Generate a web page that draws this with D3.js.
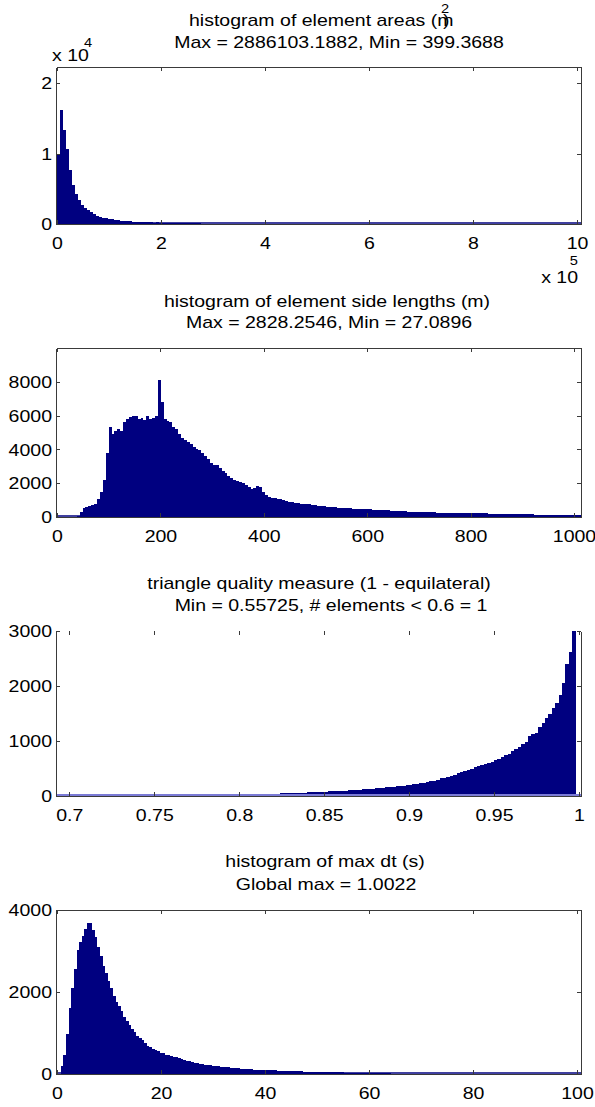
<!DOCTYPE html>
<html><head><meta charset="utf-8">
<script src="https://cdn.jsdelivr.net/npm/d3@7"></script>
<style>
html,body{margin:0;padding:0;background:#fff;}
svg{display:block;}
text{font-family:"Liberation Sans",Arial,Helvetica,sans-serif;fill:#000;}
</style>
</head><body>
<svg id="chart" width="595" height="1107"></svg>
<script>
// ---------- DATA ----------
// Panel 1: element areas (m^2)
const areaTitle1 = "histogram of element areas (m";
const areaTitle2 = "Max = 2886103.1882, Min = 399.3688";
const areaBinStart = 399.3688;
const areaBinWidth = 5771.4;
const areaCounts = [9760,16200,13300,10700,7600,5500,4200,3400,2650,2300,
 2000,1650,1350,1200,1050,900,800,720,650,600,
 540,490,450,410,380,350,320,300,280,260,
 240,225,210,250,190,170,160,150,140,130,
 120,110,100,95,90,85,80,75,70,65,
 60,55,50,48,45,42,40,38,35,32,
 30,28,26,24,22,20,18,16,14,12,
 10,9,8,7,6,5,4,3,2,1];
const areaXDomain = [-1923, 1007692];
const areaYDomain = [0, 22270];
const areaXTicks = [0,200000,400000,600000,800000,1000000];
const areaXLabels = ["0","2","4","6","8","10"];
const areaYTicks = [0,10000,20000];
const areaYLabels = ["0","1","2"];

// Panel 2: element side lengths (m)
const sideTitle1 = "histogram of element side lengths (m)";
const sideTitle2 = "Max = 2828.2546, Min = 27.0896";
const sideBinStart = 27.0896;
const sideBinWidth = 5.6023;
const sideCounts = [0,0,60,280,560,620,650,700,780,1050,
 1450,2200,3800,5300,4900,5100,5200,5100,5600,5800,
 5900,5950,5950,5800,5850,5750,5950,5800,5850,5950,
 8100,6800,5800,5700,5600,5300,5200,4900,4700,4550,
 4450,4300,4150,4050,3950,3800,3600,3450,3200,3100,
 3050,2900,2750,2600,2450,2300,2200,2150,2100,2000,
 1900,1750,1650,1700,1850,1800,1500,1300,1200,1150,
 1100,1080,1050,980,930,880,860,830,810,795,
 780,760,740,710,690,670,650,630,610,600,
 590,575,560,550,540,525,510,500,490,480,
 470,465,460,450,440,430,420,410,400,390,
 380,370,360,350,340,330,320,310,305,300,
 295,290,285,280,275,270,265,260,258,255,
 252,250,248,245,240,238,235,232,230,226,
 222,218,214,210,205,200,196,192,188,184,
 180,176,172,168,164,160,156,152,150,148,
 146,144,142,140,138,136,134,132,130,128,
 126,124,122,120,120,118,116];
const sideXDomain = [-1.934, 1013.5];
const sideYDomain = [0, 10000];
const sideXTicks = [0,200,400,600,800,1000];
const sideXLabels = ["0","200","400","600","800","1000"];
const sideYTicks = [0,2000,4000,6000,8000];
const sideYLabels = ["0","2000","4000","6000","8000"];

// Panel 3: triangle quality
const qualTitle1 = "triangle quality measure (1 - equilateral)";
const qualTitle2 = "Min = 0.55725, # elements < 0.6 = 1";
const qualBinStart = 0.692;
const qualBinWidth = 0.002;
const qualCounts = [0,0,0,1,0,0,0,1,0,0,
 1,0,0,1,0,1,0,0,1,0,
 1,1,0,1,2,1,1,2,1,2,
 2,1,2,3,2,3,3,2,4,3,
 4,25,4,5,6,8,12,10,15,14,
 16,18,22,25,24,26,28,30,30,32,
 34,35,38,40,42,44,46,48,50,52,
 55,57,60,62,65,68,70,72,76,78,
 82,85,88,92,96,100,104,108,112,118,
 122,126,130,134,140,146,150,155,160,168,
 175,180,186,195,205,215,222,232,245,255,
 268,280,300,320,335,350,370,390,410,430,
 450,475,495,520,540,560,580,600,620,650,
 680,710,740,770,810,850,900,940,980,1100,
 1130,1150,1250,1330,1420,1500,1600,1700,1830,2050,
 2400,2620,3000];
const qualXDomain = [0.69217, 1.00118];
const qualYDomain = [0, 3000];
const qualXTicks = [0.7,0.75,0.8,0.85,0.9,0.95,1];
const qualXLabels = ["0.7","0.75","0.8","0.85","0.9","0.95","1"];
const qualYTicks = [0,1000,2000,3000];
const qualYLabels = ["0","1000","2000","3000"];

// Panel 4: max dt (s)
const dtTitle1 = "histogram of max dt (s)";
const dtTitle2 = "Global max = 1.0022";
const dtBinStart = 0.75;
const dtBinWidth = 0.5;
const dtCounts = [190,470,980,1600,2090,2550,3020,3200,3350,3530,
 3660,3670,3510,3330,3100,2860,2620,2460,2250,2090,
 1890,1740,1650,1520,1380,1280,1200,1100,1010,920,
 880,820,750,690,660,610,580,550,520,500,
 470,460,440,420,410,395,360,340,320,310,
 290,275,260,250,240,230,220,210,200,195,
 190,180,170,165,160,150,150,145,135,130,
 125,120,115,110,105,100,100,95,98,95,
 92,90,86,83,80,78,75,73,70,68,
 66,64,62,60,58,56,55,53,52,50,
 48,47,45,44,42,41,40,38,37,35,
 34,32,31,30,29,28,26,25,24,23,
 22,21,20,19,18,25,24,12,10,9,
 8,7,6,5,5,4,4,3];
const dtXDomain = [-0.1923, 100.769];
const dtYDomain = [0, 4000];
const dtXTicks = [0,20,40,60,80,100];
const dtXLabels = ["0","20","40","60","80","100"];
const dtYTicks = [0,2000,4000];
const dtYLabels = ["0","2000","4000"];

// ---------- DRAWING ----------
const SX = 1.22;
const FS = 16;
const NAVY = "#000080";
const AX = "#3a3a3a";
const svg = d3.select("#chart");
svg.append("rect").attr("width",595).attr("height",1107).attr("fill","#fff");

function label(g, x, y, s, anchor, size) {
  return g.append("text")
    .attr("transform", `translate(${x},${y}) scale(${SX},1)`)
    .attr("text-anchor", anchor)
    .style("font-size", (size||FS) + "px")
    .text(s);
}

const L = 56, R = 581;

function panel(o) {
  const g = svg.append("g");
  const xs = d3.scaleLinear().domain(o.xDomain).range([L, R]);
  const ys = d3.scaleLinear().domain(o.yDomain).range([o.bottom, o.top]);
  const cid = "clip" + o.id;
  g.append("clipPath").attr("id", cid).append("rect")
    .attr("x", L).attr("y", o.top).attr("width", R - L).attr("height", o.bottom - o.top);
  g.append("g").attr("clip-path", `url(#${cid})`)
    .selectAll("rect").data(o.counts).join("rect")
    .attr("x", (d, i) => xs(o.start + i * o.width))
    .attr("width", (d, i) => Math.max(0, xs(o.start + (i + 1) * o.width) - xs(o.start + i * o.width)))
    .attr("y", d => ys(d))
    .attr("height", d => o.bottom - ys(d))
    .attr("fill", NAVY)
    .attr("shape-rendering", "crispEdges");
  // baseline of zero-height bars
  g.append("line").attr("x1", L).attr("x2", R)
    .attr("y1", o.bottom - 1).attr("y2", o.bottom - 1)
    .attr("stroke", o.baseColor).attr("stroke-width", o.baseWidth);

  const style = sel => {
    sel.selectAll(".domain").attr("stroke", AX).attr("shape-rendering", "crispEdges");
    sel.selectAll(".tick line").attr("stroke", AX).attr("shape-rendering", "crispEdges");
  };
  const bx = g.append("g").attr("transform", `translate(0,${o.bottom})`)
    .call(d3.axisBottom(xs).tickValues(o.xTicks).tickFormat((d, i) => o.xLabels[i]).tickSize(-4).tickSizeOuter(0));
  bx.call(style);
  bx.selectAll("text").attr("y", 0).attr("dy", null)
    .attr("transform", `translate(0,25) scale(${SX},1)`)
    .style("font-size", FS + "px").attr("fill", "#000");

  const tx = g.append("g").attr("transform", `translate(0,${o.top})`)
    .call(d3.axisTop(xs).tickValues(o.xTicks).tickFormat("").tickSize(-4).tickSizeOuter(0));
  tx.call(style);
  if (o.noTop) tx.select(".domain").remove();

  const ly = g.append("g").attr("transform", `translate(${L},0)`)
    .call(d3.axisLeft(ys).tickValues(o.yTicks).tickFormat((d, i) => o.yLabels[i]).tickSize(-4).tickSizeOuter(0));
  ly.call(style);
  ly.selectAll("text").attr("x", 0).attr("dy", "0.36em")
    .attr("transform", `translate(-4,0) scale(${SX},1)`)
    .style("font-size", FS + "px").attr("fill", "#000");

  const ry = g.append("g").attr("transform", `translate(${R},0)`)
    .call(d3.axisRight(ys).tickValues(o.yTicks).tickFormat("").tickSize(-4).tickSizeOuter(0));
  ry.call(style);

  return g;
}

const p1 = panel({id:1, top:67, bottom:224, xDomain:areaXDomain, yDomain:areaYDomain,
  start:areaBinStart, width:areaBinWidth, counts:areaCounts,
  xTicks:areaXTicks, xLabels:areaXLabels, yTicks:areaYTicks, yLabels:areaYLabels,
  baseColor:NAVY, baseWidth:1.5});
const p2 = panel({id:2, top:348, bottom:517, xDomain:sideXDomain, yDomain:sideYDomain,
  start:sideBinStart, width:sideBinWidth, counts:sideCounts,
  xTicks:sideXTicks, xLabels:sideXLabels, yTicks:sideYTicks, yLabels:sideYLabels,
  baseColor:NAVY, baseWidth:1.5});
const p3 = panel({id:3, top:631, bottom:796, xDomain:qualXDomain, yDomain:qualYDomain,
  start:qualBinStart, width:qualBinWidth, counts:qualCounts,
  xTicks:qualXTicks, xLabels:qualXLabels, yTicks:qualYTicks, yLabels:qualYLabels,
  baseColor:"#7b7bd6", baseWidth:2, noTop:true});
const p4 = panel({id:4, top:909.5, bottom:1074, xDomain:dtXDomain, yDomain:dtYDomain,
  start:dtBinStart, width:dtBinWidth, counts:dtCounts,
  xTicks:dtXTicks, xLabels:dtXLabels, yTicks:dtYTicks, yLabels:dtYLabels,
  baseColor:NAVY, baseWidth:1.5});

// titles
const tg = svg.append("g");
label(tg, 189, 26, areaTitle1, "start");
label(tg, 443, 26, ")", "start");
label(tg, 441, 13, "2", "start", 12);
label(tg, 339, 48, areaTitle2, "middle");
// exponent labels for panel 1
label(tg, 52, 61, "x 10", "start");
label(tg, 84, 47, "4", "start", 12);
label(tg, 578, 283, "x 10", "end");
label(tg, 578, 265, "5", "end", 12);

label(tg, 327, 307, sideTitle1, "middle");
label(tg, 329, 328, sideTitle2, "middle");
label(tg, 319, 589, qualTitle1, "middle");
label(tg, 331, 611, qualTitle2, "middle");
label(tg, 325, 867, dtTitle1, "middle");
label(tg, 326, 890, dtTitle2, "middle");
</script>
</body></html>
